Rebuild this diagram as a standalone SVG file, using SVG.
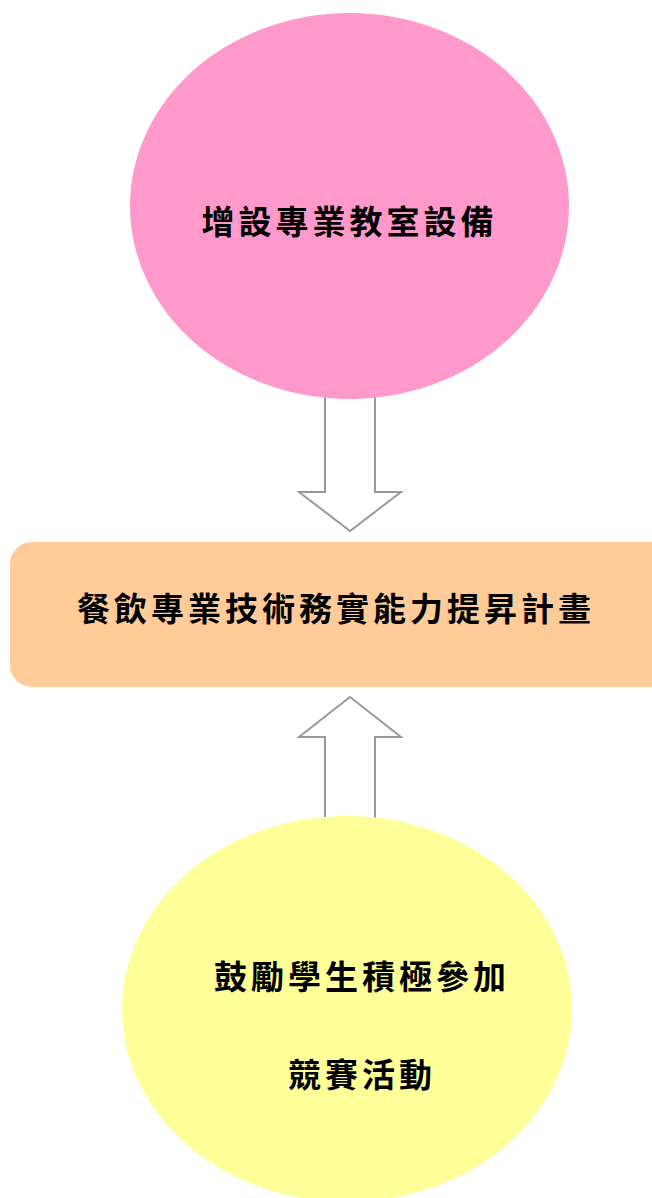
<svg xmlns="http://www.w3.org/2000/svg" width="652" height="1198" viewBox="0 0 652 1198">
<style>
.arrow{fill:#ffffff;stroke:#999999;stroke-width:2;stroke-linejoin:miter}
.lbl{font-family:"Noto Sans CJK TC","Noto Sans CJK SC",sans-serif;font-size:33px;font-weight:bold;fill:#000000;letter-spacing:4px;text-anchor:middle}
</style>
<rect width="652" height="1198" fill="#ffffff"/>
<g id="connectors">
<path class="arrow" d="M325,380 L325,492 L299,492 L350,531 L401,492 L375,492 L375,380 Z"/>
<path class="arrow" d="M325,840 L325,737 L299,737 L350,697 L401,737 L375,737 L375,840 Z"/>
</g>
<g id="node-top">
<ellipse cx="349.5" cy="206" rx="219.5" ry="193" fill="#FF99CC"/>
<text class="lbl" x="349.5" y="234">增設專業教室設備</text>
</g>
<g id="node-center">
<rect x="10" y="542" width="670" height="145" rx="22" ry="22" fill="#FFCC99"/>
<text class="lbl" x="336" y="621">餐飲專業技術務實能力提昇計畫</text>
</g>
<g id="node-bottom">
<ellipse cx="347" cy="1009" rx="225" ry="193" fill="#FFFF99"/>
<text class="lbl" x="362" y="989">鼓勵學生積極參加</text>
<text class="lbl" x="362" y="1087">競賽活動</text>
</g>
</svg>
